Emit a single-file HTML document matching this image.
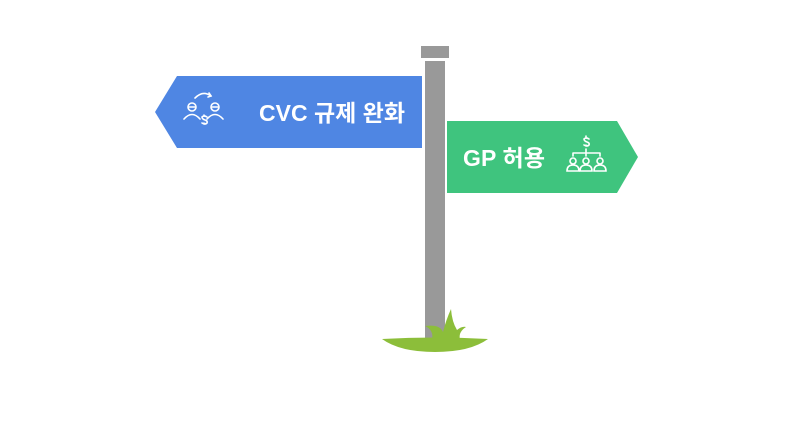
<!DOCTYPE html>
<html><head><meta charset="utf-8"><style>
html,body{margin:0;padding:0;background:#fff;width:800px;height:421px;overflow:hidden}
</style></head><body>
<svg width="800" height="421" viewBox="0 0 800 421" xmlns="http://www.w3.org/2000/svg">
<rect x="421" y="46" width="28" height="12" fill="#999"/>
<rect x="425" y="61" width="20" height="277" fill="#999"/>
<polygon points="155,112 177,76 422,76 422,148 177,148" fill="#4f86e3"/>
<polygon points="447,121 617,121 638,157 617,193 447,193" fill="#3fc47e"/>
<path d="M382,339 Q435,336 488,339 Q470,352 435,352 Q400,352 382,339 Z" fill="#8cbe3a"/>
<path d="M432,340 Q434,330 425,326 Q440,324 443,332 Q446,320 451,309 Q452,322 457,330 Q462,326 466,327 Q458,332 460,340 Z" fill="#8cbe3a"/>
<g fill="none" stroke="#fff" stroke-width="1.6" stroke-linecap="round">
<circle cx="192" cy="107" r="4"/><path d="M184,119 Q192,110 200,119"/><path d="M189,107 h6"/>
<circle cx="215" cy="107" r="4"/><path d="M207,119 Q215,110 223,119"/><path d="M212,107 h6"/>
<path d="M195,98 Q203,90 211,96"/><path d="M209,93 l2,3 -3,1"/>
<path d="M207,117 q-3,-2 -5,0 q0,2 3,3 q3,1 2,3 q-2,2 -5,0 M204,115 v1 M204,123 v1"/>
<path d="M589,139 q-3,-2 -5,0 q0,2 3,3 q3,1 2,3 q-2,2 -5,0 M586,136 v1 M586,145 v1"/>
<path d="M586,149 v4 M573,153 h27 M573,153 v3 M586,153 v3 M600,153 v3"/>
<circle cx="573" cy="161" r="3"/><path d="M567,171 Q567,165 573,165 Q579,165 579,171 Z"/>
<circle cx="586" cy="161" r="3"/><path d="M580,171 Q580,165 586,165 Q592,165 592,171 Z"/>
<circle cx="600" cy="161" r="3"/><path d="M594,171 Q594,165 600,165 Q606,165 606,171 Z"/>
</g>
<text x="259" y="121" font-family="'Liberation Sans','Noto Sans CJK KR',sans-serif" font-weight="bold" font-size="23" textLength="146" fill="#fff">CVC 규제 완화</text>
<text x="463" y="166" font-family="'Liberation Sans','Noto Sans CJK KR',sans-serif" font-weight="bold" font-size="23" textLength="82" fill="#fff">GP 허용</text>
</svg>
</body></html>
